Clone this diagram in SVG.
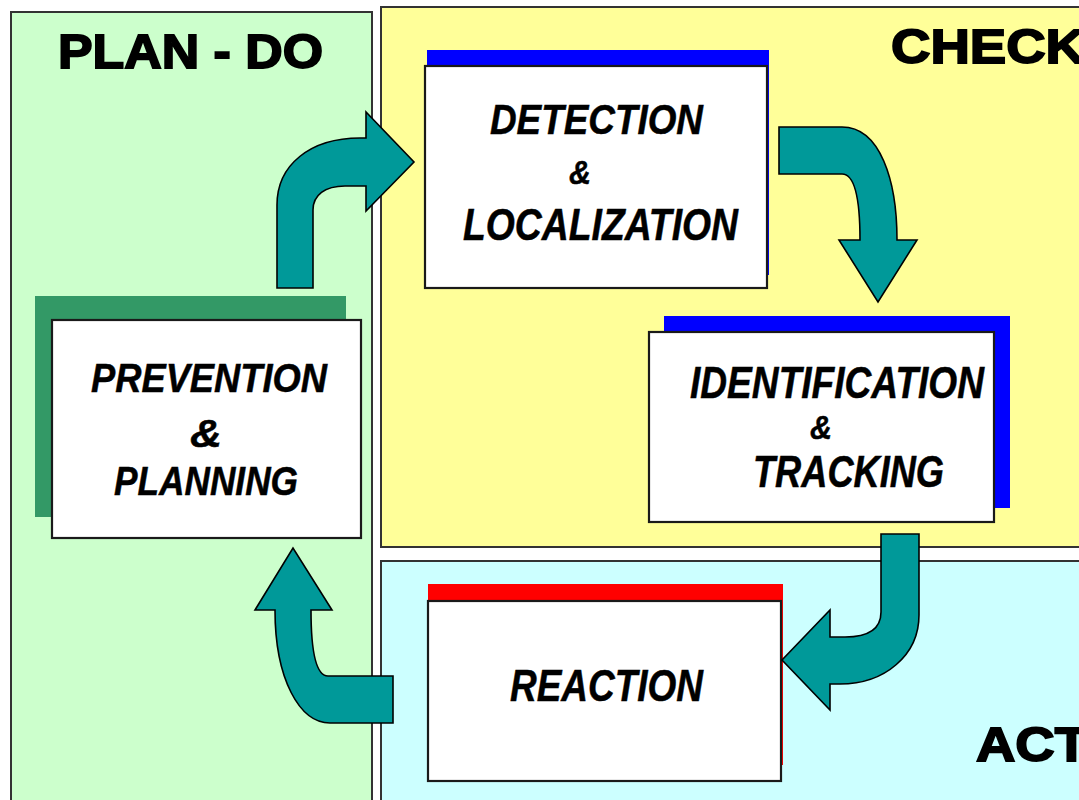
<svg xmlns="http://www.w3.org/2000/svg" width="1079" height="800" viewBox="0 0 1079 800">
<style>
.panel{stroke:#333333;stroke-width:2}
.box{fill:#ffffff;stroke:#1a1a1a;stroke-width:2.2}
.arrow{fill:#009999;stroke:#000000;stroke-width:1.6;stroke-linejoin:miter}
.head{font-family:"Liberation Sans",Arial,sans-serif;font-weight:bold;font-size:48px;fill:#000;stroke:#000;stroke-width:1.8}
.lbl{font-family:"Liberation Sans",Arial,sans-serif;font-weight:bold;font-style:italic;fill:#000;stroke:#000;stroke-width:0.5}
</style>
<rect width="1079" height="800" fill="#ffffff"/>
<g id="panel-plan-do">
<rect class="panel" x="11" y="12" width="361" height="800" fill="#CCFFCC"/>
<text class="head" x="58" y="68" textLength="265" lengthAdjust="spacingAndGlyphs">PLAN - DO</text>
</g>
<g id="panel-check">
<rect class="panel" x="381" y="7" width="720" height="540" fill="#FFFF99"/>
<text class="head" x="891" y="63" textLength="194" lengthAdjust="spacingAndGlyphs">CHECK</text>
</g>
<g id="panel-act">
<rect class="panel" x="381" y="561" width="720" height="260" fill="#CCFFFF"/>
<text class="head" x="976" y="761" textLength="112" lengthAdjust="spacingAndGlyphs">ACT</text>
</g>
<g id="node-prevention">
<rect x="35" y="296" width="311" height="221" fill="#339966"/>
<rect class="box" x="52" y="320" width="309" height="218"/>
<text class="lbl" x="91" y="392" font-size="41" textLength="236" lengthAdjust="spacingAndGlyphs">PREVENTION</text>
<text class="lbl" x="190" y="447" font-size="39" textLength="32" lengthAdjust="spacingAndGlyphs">&amp;</text>
<text class="lbl" x="114" y="495" font-size="41" textLength="184" lengthAdjust="spacingAndGlyphs">PLANNING</text>
</g>
<g id="node-detection">
<rect x="427" y="50" width="342" height="225" fill="#0000FF"/>
<rect class="box" x="425" y="66" width="342" height="222"/>
<text class="lbl" x="490" y="134" font-size="43" textLength="213" lengthAdjust="spacingAndGlyphs">DETECTION</text>
<text class="lbl" x="569" y="184" font-size="33" textLength="22" lengthAdjust="spacingAndGlyphs">&amp;</text>
<text class="lbl" x="463" y="240" font-size="44" textLength="275" lengthAdjust="spacingAndGlyphs">LOCALIZATION</text>
</g>
<g id="node-identification">
<rect x="664" y="316" width="346" height="192" fill="#0000FF"/>
<rect class="box" x="649" y="332" width="345" height="190"/>
<text class="lbl" x="690" y="398" font-size="45" textLength="294" lengthAdjust="spacingAndGlyphs">IDENTIFICATION</text>
<text class="lbl" x="810" y="439" font-size="33" textLength="22" lengthAdjust="spacingAndGlyphs">&amp;</text>
<text class="lbl" x="753" y="487" font-size="44" textLength="191" lengthAdjust="spacingAndGlyphs">TRACKING</text>
</g>
<g id="node-reaction">
<rect x="428" y="584" width="355" height="181" fill="#FF0000"/>
<rect class="box" x="428" y="601" width="353" height="180"/>
<text class="lbl" x="510" y="701" font-size="45" textLength="193" lengthAdjust="spacingAndGlyphs">REACTION</text>
</g>
<g id="connectors">
<path class="arrow" d="M277,288 L277,205 C277,165 310,138 360,138 L366,138 L366,112 L414,162 L366,211 L366,186 L345,186 C325,186 313,195 313,210 L313,288 Z"/>
<path class="arrow" d="M779,127 L842,127 C880,127 897,180 897,240 L917,240 L878,302 L839,240 L860,240 C860,200 855,174 842,174 L779,174 Z"/>
<path class="arrow" d="M881,534 L919,534 L919,615 C919,655 885,684 840,684 L830,684 L830,710 L782,660 L830,610 L830,637 L845,637 C870,637 881,628 881,612 Z"/>
<path class="arrow" d="M393,676 L328,676 C316,676 311,650 311,610 L332,610 L293,548 L255,610 L275,610 C275,680 300,723 330,723 L393,723 Z"/>
</g>
</svg>
